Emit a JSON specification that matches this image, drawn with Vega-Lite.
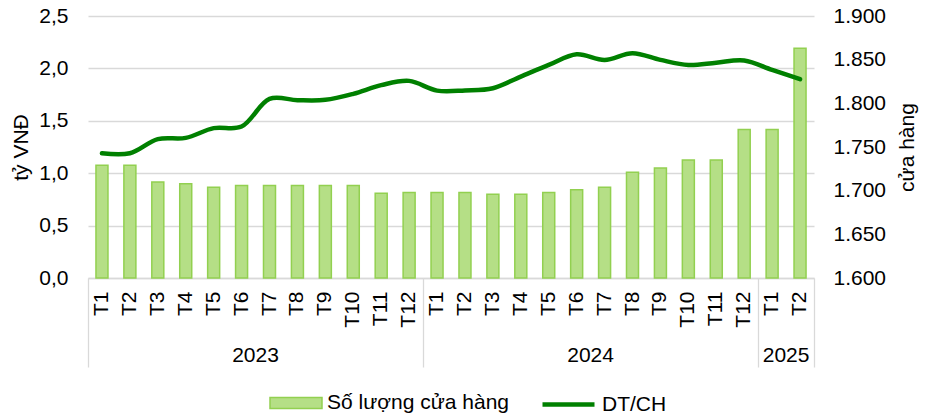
{
  "$schema": "https://vega.github.io/schema/vega-lite/v6.json",
  "width": 726,
  "height": 262,
  "autosize": {"type": "none"},
  "padding": {"left": 88, "top": 16, "right": 120, "bottom": 137},
  "background": "white",
  "config": {
    "font": "Liberation Sans",
    "view": {"stroke": null},
    "locale": {"number": {"decimal": ",", "thousands": ".", "grouping": [3], "currency": ["", " ₫"]}},
    "axis": {"labelFontSize": 21, "labelColor": "#000000", "titleFontSize": 21, "titleFontWeight": "normal", "titleColor": "#000000"},
    "legend": {"labelFontSize": 21, "labelColor": "#000000", "labelLimit": 400}
  },
  "data": {
    "values": [
      {"k": "2023|T1", "store": 1729, "dt": 1.19},
      {"k": "2023|T2", "store": 1729, "dt": 1.19},
      {"k": "2023|T3", "store": 1710, "dt": 1.325},
      {"k": "2023|T4", "store": 1708, "dt": 1.337},
      {"k": "2023|T5", "store": 1704, "dt": 1.43},
      {"k": "2023|T6", "store": 1706, "dt": 1.445},
      {"k": "2023|T7", "store": 1706, "dt": 1.709},
      {"k": "2023|T8", "store": 1706, "dt": 1.697},
      {"k": "2023|T9", "store": 1706, "dt": 1.7},
      {"k": "2023|T10", "store": 1706, "dt": 1.757},
      {"k": "2023|T11", "store": 1697, "dt": 1.84},
      {"k": "2023|T12", "store": 1698, "dt": 1.881},
      {"k": "2024|T1", "store": 1698, "dt": 1.788},
      {"k": "2024|T2", "store": 1698, "dt": 1.79},
      {"k": "2024|T3", "store": 1696, "dt": 1.811},
      {"k": "2024|T4", "store": 1696, "dt": 1.922},
      {"k": "2024|T5", "store": 1698, "dt": 2.033},
      {"k": "2024|T6", "store": 1701, "dt": 2.135},
      {"k": "2024|T7", "store": 1704, "dt": 2.081},
      {"k": "2024|T8", "store": 1721, "dt": 2.145},
      {"k": "2024|T9", "store": 1726, "dt": 2.081},
      {"k": "2024|T10", "store": 1735, "dt": 2.033},
      {"k": "2024|T11", "store": 1735, "dt": 2.055},
      {"k": "2024|T12", "store": 1770, "dt": 2.075},
      {"k": "2025|T1", "store": 1770, "dt": 1.986},
      {"k": "2025|T2", "store": 1863, "dt": 1.897}
    ]
  },
  "layer": [
    {
      "mark": {"type": "bar", "stroke": "#92d050", "strokeWidth": 1.5, "width": {"band": 0.43}},
      "encoding": {
        "x": {
          "field": "k", "type": "nominal", "sort": null,
          "scale": {"paddingInner": 0, "paddingOuter": 0},
          "axis": {"orient": "bottom", "title": null, "labelExpr": "split(datum.value,'|')[1]", "labelAngle": -90, "labelPadding": 13, "ticks": false, "tickSize": 0, "domain": true, "domainColor": "#d9d9d9", "domainWidth": 1.3, "grid": false, "labelOverlap": false}
        },
        "y": {
          "field": "store", "type": "quantitative",
          "scale": {"domain": [1600, 1900], "nice": false, "zero": false},
          "axis": {"orient": "right", "title": "cửa hàng", "values": [1600, 1650, 1700, 1750, 1800, 1850, 1900], "format": ",.0f", "grid": false, "domain": false, "ticks": false, "tickSize": 0, "labelPadding": 19, "titleAngle": -90, "titleBaseline": "top", "titlePadding": 11}
        },
        "y2": {"datum": 1600},
        "fill": {
          "datum": "Số lượng cửa hàng", "type": "nominal",
          "scale": {"range": ["#b5df86"]},
          "legend": {"orient": "none", "legendX": 181, "legendY": 360, "title": null, "symbolType": "M-1,-0.21H1V0.21H-1Z", "symbolSize": 2704, "symbolStrokeColor": "#92d050", "symbolStrokeWidth": 1.5, "labelOffset": 4, "labelLimit": 400, "padding": 0, "labelFontSize": 21}
        }
      }
    },
    {
      "mark": {"type": "line", "strokeWidth": 4.5, "interpolate": "catmull-rom", "strokeCap": "round"},
      "encoding": {
        "x": {
          "field": "k", "type": "nominal", "sort": null,
          "axis": {"orient": "bottom", "title": null, "values": ["2023|T6", "2024|T6", "2025|T1"], "labelExpr": "datum.value == '2023|T6' ? '2023' : datum.value == '2024|T6' ? '2024' : '2025'", "labelAngle": 0, "labelOffset": 13.96, "labelPadding": 83, "labelBaseline": "alphabetic", "ticks": false, "tickSize": 0, "domain": false, "grid": false, "labelOverlap": false}
        },
        "y": {
          "field": "dt", "type": "quantitative",
          "scale": {"domain": [0, 2.5], "nice": false},
          "axis": {"orient": "left", "title": "tỷ VNĐ", "values": [0, 0.5, 1, 1.5, 2, 2.5], "format": ".1f", "grid": true, "gridColor": "#d9d9d9", "gridWidth": 1.3, "domain": false, "ticks": false, "tickSize": 0, "labelPadding": 20, "titlePadding": 7}
        },
        "stroke": {
          "datum": "DT/CH", "type": "nominal",
          "scale": {"range": ["#008000"]},
          "legend": {"orient": "none", "legendX": 452, "legendY": 360, "title": null, "symbolType": "stroke", "symbolSize": 2704, "symbolStrokeWidth": 4.5, "labelOffset": 5, "labelLimit": 400, "padding": 0, "labelFontSize": 21}
        }
      }
    },
    {
      "mark": {"type": "point", "opacity": 0},
      "encoding": {
        "x": {
          "field": "k", "type": "nominal", "sort": null,
          "axis": {"orient": "bottom", "title": null, "values": ["2023|T1", "2024|T1", "2025|T1"], "bandPosition": 0, "labels": false, "domain": false, "grid": false, "ticks": true, "tickSize": 89, "tickColor": "#d9d9d9", "tickWidth": 1.3}
        }
      }
    },
    {
      "mark": {"type": "point", "opacity": 0},
      "encoding": {
        "x": {
          "field": "k", "type": "nominal", "sort": null,
          "axis": {"orient": "bottom", "title": null, "values": ["2025|T2"], "bandPosition": 1, "labels": false, "domain": false, "grid": false, "ticks": true, "tickSize": 89, "tickColor": "#d9d9d9", "tickWidth": 1.3}
        }
      }
    }
  ],
  "resolve": {"scale": {"y": "independent"}, "axis": {"x": "independent"}}
}
